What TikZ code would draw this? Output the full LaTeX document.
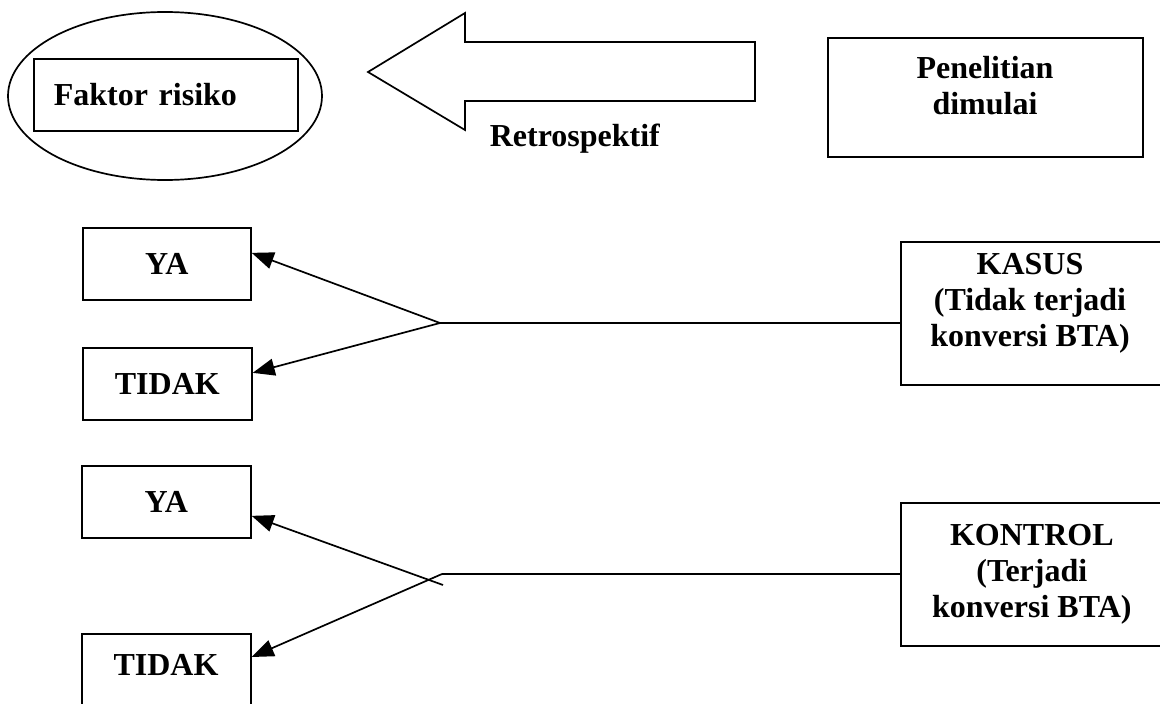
\documentclass[tikz,border=0pt]{standalone}
\usepackage{fontspec}
\setmainfont{Liberation Serif}
\usetikzlibrary{arrows.meta,calc,shapes.geometric}
\begin{document}
\begin{tikzpicture}[x=1pt,y=-1pt, line width=1.7pt,
  lbl/.style={font=\bfseries\fontsize{32}{36}\selectfont, align=center, inner sep=0pt},
  box/.style={draw, rectangle, inner sep=0pt, anchor=north west},
  conn/.style={-{Triangle[length=22pt,width=17pt]}},
]
\useasboundingbox (0,0) rectangle (1160,704);

% top row
\node[draw, ellipse, minimum width=314pt, minimum height=168pt, inner sep=0pt] (oval) at (165,96) {};
\node[box, lbl, minimum width=264pt, minimum height=72pt, text width=224pt, align=left, inner xsep=20pt] (faktor) at (33,58) {Faktor risiko};

\draw[line join=miter] (368,72) -- (465,13) -- (465,42) -- (755,42) -- (755,101) -- (465,101) -- (465,130) -- cycle;
\node[lbl, anchor=base west] (retro) at (489,146) {Retrospektif};

\node[box, minimum width=315pt, minimum height=119pt] (pen) at (827,37) {};
\node[lbl] (pentext) at (985,86) {Penelitian\\dimulai};

% middle group
\node[box, lbl, minimum width=168pt, minimum height=72pt] (ya1) at (82,227) {YA};
\node[box, lbl, minimum width=169pt, minimum height=72pt] (tidak1) at (82,347) {TIDAK};
\node[box, minimum width=262pt, minimum height=143pt] (kasus) at (900,241) {};
\node[lbl] (kasustext) at (1030,303) {KASUS\\(Tidak terjadi\\konversi BTA)};

\coordinate (f1) at (440,323);
\draw (f1) -- (f1 -| kasus.west);
\draw[conn] (f1) -- ($(ya1.east)+(0,-11)$);
\draw[conn] (f1) -- ($(tidak1.east)+(0,-11)$);

% bottom group
\node[box, lbl, minimum width=169pt, minimum height=72pt] (ya2) at (81,465) {YA};
\node[box, minimum width=169pt, minimum height=100pt] (tidak2) at (81,633) {};
\node[lbl, anchor=base] (tidak2text) at (166,675) {TIDAK};
\node[box, lbl, minimum width=262pt, minimum height=143pt] (kontrol) at (900,502) {KONTROL\\(Terjadi\\konversi BTA)};

\coordinate (f2) at (442,574);
\coordinate (f3) at (443,585);
\draw (f2) -- (f2 -| kontrol.west);
\draw[conn] (f3) -- ($(ya2.east)+(0,14)$);
\draw[conn] (f2) -- ($(tidak2.north east)+(0,24)$);
\end{tikzpicture}
\end{document}
